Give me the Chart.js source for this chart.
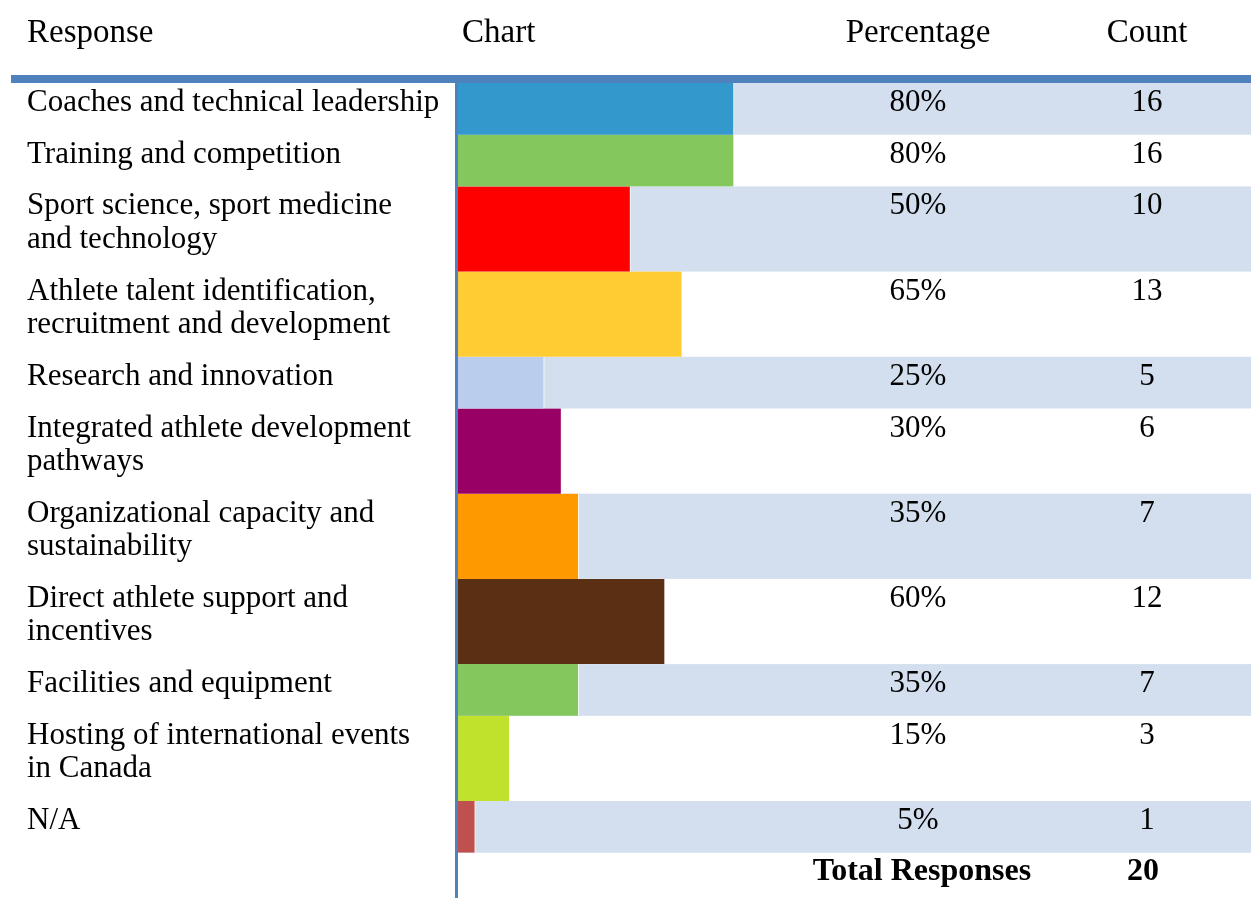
<!DOCTYPE html>
<html>
<head>
<meta charset="utf-8">
<title>Survey responses</title>
<script src="https://cdn.jsdelivr.net/npm/chart.js@4.4.1/dist/chart.umd.min.js"></script>
<style>
  html, body { margin: 0; padding: 0; background: #ffffff; }
  #wrap { width: 1251px; height: 898px; position: relative; }
</style>
</head>
<body>
<div id="wrap"><canvas id="chart" width="1251" height="898"></canvas></div>
<script>
// ---- data ----
const columnHeaders = ['Response', 'Chart', 'Percentage', 'Count'];
const responses = [
  ['Coaches and technical leadership'],
  ['Training and competition'],
  ['Sport science, sport medicine', 'and technology'],
  ['Athlete talent identification,', 'recruitment and development'],
  ['Research and innovation'],
  ['Integrated athlete development', 'pathways'],
  ['Organizational capacity and', 'sustainability'],
  ['Direct athlete support and', 'incentives'],
  ['Facilities and equipment'],
  ['Hosting of international events', 'in Canada'],
  ['N/A']
];
const percentages = [80, 80, 50, 65, 25, 30, 35, 60, 35, 15, 5];
const counts = [16, 16, 10, 13, 5, 6, 7, 12, 7, 3, 1];
const totalLabel = 'Total Responses';
const totalResponses = 20;
const barColors = ['#3399cc', '#83c75d', '#ff0000', '#ffcc33', '#bbcdec', '#990066',
                   '#ff9900', '#5b2f13', '#83c75d', '#c1e22c', '#c0504d'];

// ---- layout & style ----
const W = 1251, H = 898;
const FONT = '"Liberation Serif", "Times New Roman", serif';
const HEAD_SIZE = 33;
const BODY_SIZE = 31;
const TOTAL_SIZE = 32;
const LINE_H = 33.5;          // distance between wrapped label lines
const ROW_PAD = 18.2;         // vertical padding inside a row
const BASELINE_OFF = 28;      // first baseline below the row top
const BODY_TOP = 83;
const BAR_LEFT = 458;
const BAR_FULL = 345;         // pixel length of 100 %
const LABEL_X = 27;
const CHART_HEAD_X = 462;
const PCT_X = 918;
const COUNT_X = 1147;
const RULE_COLOR = '#4f81bd';
const BAND_COLOR = '#d3dfee';

const rowHeights = responses.map(lines => ROW_PAD + lines.length * LINE_H);
const rowTops = [];
let acc = 0;
rowHeights.forEach(h => { rowTops.push(acc); acc += h; });
const bodyHeight = acc;

function rowPixels(chart, i) {
  const ys = chart.scales.y;
  const a = ys.getPixelForValue(rowTops[i]);
  const b = ys.getPixelForValue(rowTops[i] + rowHeights[i]);
  return { top: Math.min(a, b), bottom: Math.max(a, b) };
}

// Banded rows, rules and table text around the bars
const tablePlugin = {
  id: 'tableFrame',
  beforeDatasetsDraw(chart) {
    const { ctx, chartArea } = chart;
    ctx.save();
    ctx.fillStyle = BAND_COLOR;
    responses.forEach((r, i) => {
      if (i % 2 !== 0) return;
      const p = rowPixels(chart, i);
      ctx.fillRect(chartArea.left, p.top, W - chartArea.left, p.bottom - p.top);
    });
    ctx.restore();
  },
  afterDatasetsDraw(chart) {
    const { ctx, chartArea } = chart;
    ctx.save();
    // rules
    ctx.fillStyle = RULE_COLOR;
    ctx.fillRect(11, BODY_TOP - 8, W - 11, 8);
    ctx.fillRect(chartArea.left - 3, BODY_TOP, 3, H - BODY_TOP);

    ctx.fillStyle = '#000000';
    ctx.textBaseline = 'alphabetic';

    // headers
    ctx.font = HEAD_SIZE + 'px ' + FONT;
    ctx.textAlign = 'left';
    ctx.fillText(columnHeaders[0], LABEL_X, 42);
    ctx.fillText(columnHeaders[1], CHART_HEAD_X, 42);
    ctx.textAlign = 'center';
    ctx.fillText(columnHeaders[2], PCT_X, 42);
    ctx.fillText(columnHeaders[3], COUNT_X, 42);

    // rows
    ctx.font = BODY_SIZE + 'px ' + FONT;
    responses.forEach((lines, i) => {
      const p = rowPixels(chart, i);
      const base = p.top + BASELINE_OFF;
      ctx.textAlign = 'left';
      lines.forEach((ln, k) => ctx.fillText(ln, LABEL_X, base + k * LINE_H));
      ctx.textAlign = 'center';
      ctx.fillText(percentages[i] + '%', PCT_X, base);
      ctx.fillText(String(counts[i]), COUNT_X, base);
    });

    // totals
    const last = rowPixels(chart, responses.length - 1);
    ctx.font = 'bold ' + TOTAL_SIZE + 'px ' + FONT;
    ctx.textAlign = 'center';
    ctx.fillText(totalLabel, 922, last.bottom + 27);
    ctx.fillText(String(totalResponses), 1143, last.bottom + 27);
    ctx.restore();
  }
};

const datasets = responses.map((lines, i) => ({
  label: lines.join(' '),
  data: [{ x: percentages[i], y: rowTops[i] + rowHeights[i] / 2 }],
  backgroundColor: barColors[i],
  borderColor: '#ffffff',
  borderWidth: { top: 0, right: 1, bottom: 0, left: 0 },
  grouped: false,
  barThickness: (c) => {
    const p = rowPixels(c.chart, c.datasetIndex);
    const t = p.bottom - p.top;
    return isFinite(t) && t > 0 ? t : rowHeights[c.datasetIndex];
  }
}));

new Chart(document.getElementById('chart'), {
  type: 'bar',
  data: { datasets },
  options: {
    indexAxis: 'y',
    responsive: false,
    animation: false,
    events: [],
    layout: {
      padding: { left: BAR_LEFT, right: W - BAR_LEFT - BAR_FULL, top: BODY_TOP, bottom: H - BODY_TOP - bodyHeight }
    },
    scales: {
      x: { type: 'linear', min: 0, max: 100, offset: false, display: false },
      y: { type: 'linear', min: 0, max: bodyHeight, reverse: true, offset: false, display: false }
    },
    plugins: { legend: { display: false }, tooltip: { enabled: false } }
  },
  plugins: [tablePlugin]
});
</script>
</body>
</html>
